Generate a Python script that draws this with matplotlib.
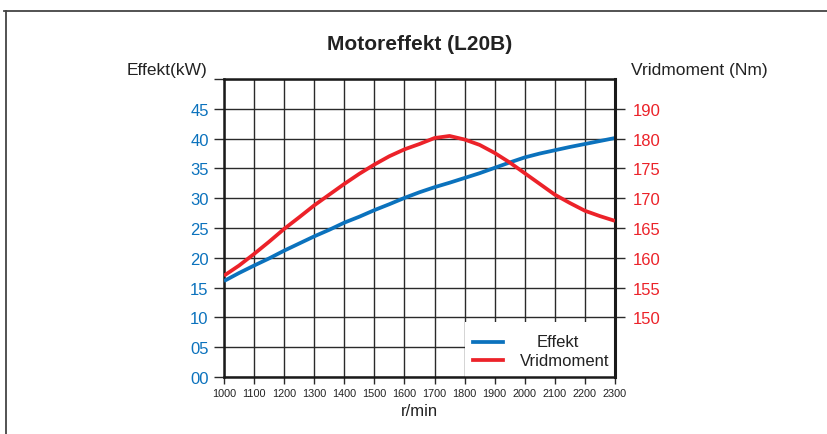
import matplotlib.pyplot as plt
from matplotlib.lines import Line2D
from matplotlib.patches import Rectangle

plt.rcParams['font.family'] = ['Liberation Sans', 'DejaVu Sans']

# values every 50 r/min
rpm = [1000, 1050, 1100, 1150, 1200, 1250, 1300, 1350, 1400, 1450, 1500, 1550, 1600, 1650,
       1700, 1750, 1800, 1850, 1900, 1950, 2000, 2050, 2100, 2150, 2200, 2250, 2300]
effekt = [16.1, 17.45, 18.7, 19.9, 21.2, 22.4, 23.6, 24.7, 25.9, 26.9, 28.0, 29.0, 30.05, 31.0,
          31.85, 32.6, 33.4, 34.2, 35.1, 36.0, 36.85, 37.5, 38.05, 38.6, 39.1, 39.6, 40.1]
vridmoment = [157.0, 158.7, 160.65, 162.7, 164.85, 166.8, 168.8, 170.6, 172.4, 174.1, 175.65, 177.05, 178.2, 179.1,
              180.1, 180.45, 179.85, 178.95, 177.6, 176.0, 174.2, 172.4, 170.6, 169.2, 167.9, 167.0, 166.2]

kw_ticks = [0, 5, 10, 15, 20, 25, 30, 35, 40, 45, 50]
kw_labels = ['00', '05', '10', '15', '20', '25', '30', '35', '40', '45', '']
nm_ticks = [150, 155, 160, 165, 170, 175, 180, 185]
nm_labels = ['150', '155', '160', '165', '170', '175', '180', '190']

blue = '#0b72bd'
red = '#ec2229'

fig = plt.figure(figsize=(8.28, 4.35), dpi=100)
ax = fig.add_axes([0.2705, 0.131, 0.4722, 0.685])
ax2 = ax.twinx()

ax.plot(rpm, effekt, color=blue, lw=2.7, zorder=3, solid_capstyle='butt', solid_joinstyle='round')
ax2.plot(rpm, vridmoment, color=red, lw=2.7, zorder=3, solid_capstyle='butt', solid_joinstyle='round')

ax.set_xlim(1000, 2300)
ax.set_ylim(0, 50)
ax2.set_ylim(140, 190)

ax.set_xticks(range(1000, 2301, 100))
ax.set_xticklabels([str(v) for v in range(1000, 2301, 100)], fontsize=7.8, color='#222222')
ax.set_yticks(kw_ticks)
ax.set_yticklabels(kw_labels, fontsize=12, color=blue)
ax2.set_yticks(nm_ticks)
ax2.set_yticklabels(nm_labels, fontsize=12, color=red)

ax.grid(True, color='#2a2a2a', lw=1.0)
ax.tick_params(axis='x', direction='out', length=5, width=1, color='#2a2a2a', pad=3)
ax.tick_params(axis='y', direction='out', length=7, width=1, color='#2a2a2a', pad=4)
ax2.tick_params(axis='y', direction='out', length=7, width=1, color='#2a2a2a', pad=6)

for sp in ax.spines.values():
    sp.set_linewidth(1.8)
    sp.set_color('#1a1a1a')
for sp in ax2.spines.values():
    sp.set_visible(False)
ax2.spines['right'].set_visible(True)
ax2.spines['right'].set_linewidth(2.2)
ax2.spines['right'].set_color('#1a1a1a')

# legend box
ax.add_patch(Rectangle((1800, 0), 500, 9.3, facecolor='white', edgecolor='none', zorder=2.5))
ax.plot([1828, 1928], [5.9, 5.9], color=blue, lw=2.7, zorder=3)
ax.plot([1828, 1928], [2.85, 2.85], color=red, lw=2.7, zorder=3)
ax.text(2110, 5.9, 'Effekt', ha='center', va='center', fontsize=12, color='#222222', zorder=4)
ax.text(2134, 2.85, 'Vridmoment', ha='center', va='center', fontsize=12, color='#222222', zorder=4)

fig.text(0.507, 0.897, 'Motoreffekt (L20B)', ha='center', va='center', fontsize=15, fontweight='bold', color='#222222')
fig.text(0.202, 0.839, 'Effekt(kW)', ha='center', va='center', fontsize=12.5, color='#222222')
fig.text(0.762, 0.839, 'Vridmoment (Nm)', ha='left', va='center', fontsize=12.5, color='#222222')
fig.text(0.507, 0.053, 'r/min', ha='center', va='center', fontsize=12, color='#222222')

# outer frame
fig.add_artist(Line2D([0.005, 1.0], [0.972, 0.972], color='#444444', lw=1.3))
fig.add_artist(Line2D([0.0075, 0.0075], [0.0, 0.972], color='#444444', lw=1.3))

fig.savefig('out.png', dpi=100)
